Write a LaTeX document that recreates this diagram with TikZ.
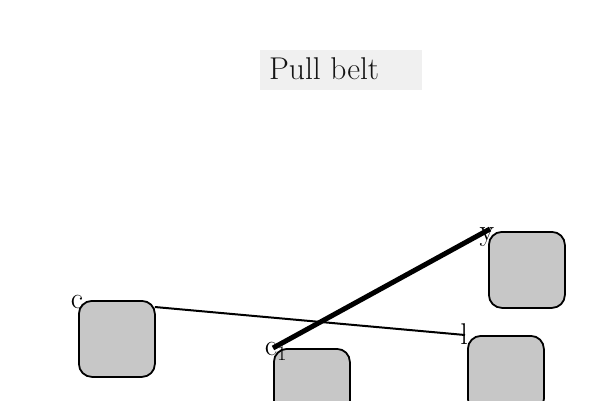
\documentclass[tikz,border=0pt]{standalone}
\usetikzlibrary{calc}
\begin{document}
\begin{tikzpicture}[x=1pt,y=-1pt,
  font=\fontsize{31.5}{38}\selectfont,
  part/.style={draw=black, line width=1.8pt, fill=black!22, rounded corners=13pt,
    minimum width=76pt, minimum height=76pt, inner sep=0pt, anchor=north west},
  tag/.style={inner sep=0pt, font=\fontsize{30}{36}\selectfont},
  belt/.style={draw=black, line width=2pt},
  heavybelt/.style={draw=black, line width=5pt}]
\useasboundingbox (0,0) rectangle (600,400);
% title
\node[fill=black!6, minimum width=162pt, minimum height=40pt, inner sep=0pt,
  anchor=north west] (title) at (260,50) {};
\node[anchor=base west, inner sep=0pt, text=black!92] (titletext) at (269,79) {Pull belt};
% parts
\node[part] (b1) at (78,300) {};
\node[part] (b2) at (273,348) {};
\node[part] (b3) at (488,231) {};
\node[part] (b4) at (467,335) {};
% corner tags
\node[tag] (t1) at (77,302) {c};
\node[tag] (t2) at (276,351) {c$_1$};
\node[tag] (t3) at (487,237) {y};
\node[tag] (t4) at (464,334) {l};
% belts
\coordinate (s1) at ($(b1.north east)+(-1,7)$);
\coordinate (e1) at ($(b4.north west)+(-2,0)$);
\draw[belt] (s1) -- (e1);
\coordinate (s2) at (b2.north west);
\coordinate (e2) at ($(b3.north west)+(2,-2)$);
\draw[heavybelt] (s2) -- (e2);
\end{tikzpicture}
\end{document}
